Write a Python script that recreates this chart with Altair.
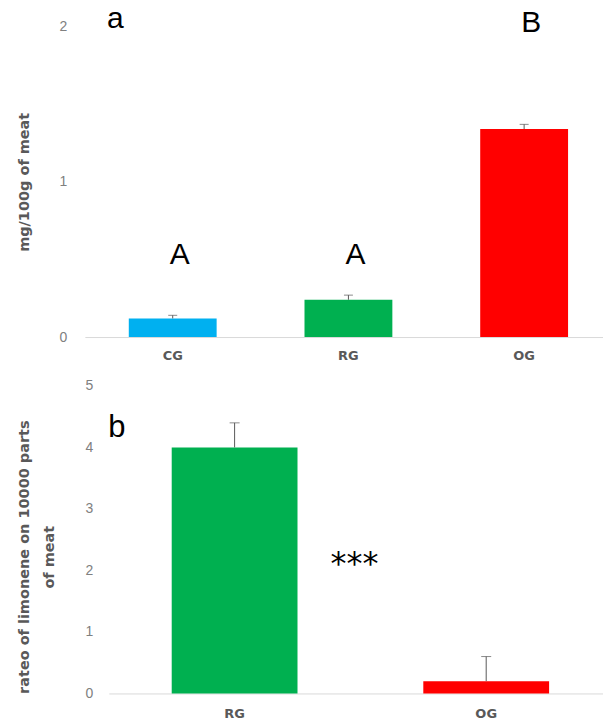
import altair as alt
import pandas as pd

# Panel a: limonene content per group
groups_a = ["CG", "RG", "OG"]
means_a = [0.12, 0.24, 1.34]
sd_a = [0.02, 0.03, 0.03]
letters_a = ["A", "A", "B"]
letter_y_a = [0.53, 0.53, 2.02]
ticks_a = [0, 1, 2]

# Panel b: ratio on 10000 parts of meat
groups_b = ["RG", "OG"]
means_b = [4.0, 0.2]
sd_b = [0.4, 0.4]
signif_b = "***"
signif_y_b = 2.1
ticks_b = [0, 1, 2, 3, 4, 5]

group_colors = {"CG": "#00B0F0", "RG": "#00B050", "OG": "#FF0000"}

GREY = "#595959"
LABEL_GREY = "#808080"

df_a = pd.DataFrame({"group": groups_a, "mean": means_a, "sd": sd_a})
df_a["upper"] = df_a["mean"] + df_a["sd"]
df_a_letters = pd.DataFrame({"group": groups_a, "letter": letters_a, "pos": letter_y_a})

df_b = pd.DataFrame({"group": groups_b, "mean": means_b, "sd": sd_b})
df_b["upper"] = df_b["mean"] + df_b["sd"]
df_b_sig = pd.DataFrame({"group": [groups_b[0]], "text": [signif_b], "pos": [signif_y_b]})

color_scale = alt.Scale(domain=list(group_colors.keys()), range=list(group_colors.values()))


def x_enc(groups, scale, pad):
    return alt.X(
        "group:N",
        sort=groups,
        title=None,
        scale=scale,
        axis=alt.Axis(
            labelAngle=0,
            labelFont="DejaVu Sans",
            labelFontWeight="bold",
            labelFontSize=13,
            labelColor=GREY,
            labelPadding=pad,
            ticks=False,
            domain=True,
            domainColor="#D9D9D9",
            domainWidth=1,
            grid=False,
        ),
    )


def y_axis(title, values, tx, ty, lpad):
    return alt.Axis(
        values=values,
        format=".0f",
        labelOverlap=False,
        title=title,
        titleFont="DejaVu Sans",
        titleFontSize=14.5,
        titleFontWeight="bold",
        titleColor=GREY,
        titleAngle=270,
        titleBaseline="middle",
        titleAlign="center",
        titleX=tx,
        titleY=ty,
        titleLineHeight=25,
        labelFont="Liberation Sans",
        labelFontSize=14,
        labelColor=LABEL_GREY,
        labelPadding=lpad,
        ticks=False,
        domain=False,
        grid=False,
    )


# ---- panel a ----
xa = x_enc(groups_a, alt.Scale(paddingInner=0.5, paddingOuter=0.2244, align=0.557), 12)
ya_scale = alt.Scale(domain=[0, 2], nice=False)
base_a = alt.Chart(df_a).encode(x=xa)
bars_a = base_a.mark_bar().encode(
    y=alt.Y("mean:Q", scale=ya_scale,
            axis=y_axis("mg/100g of meat", ticks_a, -60, 155.5, 18)),
    color=alt.Color("group:N", scale=color_scale, legend=None),
)
err_a = base_a.mark_rule(color=GREY, strokeWidth=1).encode(y="mean:Q", y2="upper:Q")
cap_a = base_a.mark_tick(color=GREY, size=9, thickness=1).encode(y="upper:Q")
letters_a_layer = alt.Chart(df_a_letters).mark_text(
    font="Liberation Sans", fontSize=30, color="black", baseline="middle", dx=7
).encode(x=alt.X("group:N", sort=groups_a), y="pos:Q", text="letter:N")
tag_a = alt.Chart(pd.DataFrame({"t": ["a"]})).mark_text(
    font="Liberation Sans", fontSize=30, color="black", baseline="middle"
).encode(x=alt.value(30.5), y=alt.value(-7.5), text="t:N")

panel_a = alt.layer(bars_a, err_a, cap_a, letters_a_layer, tag_a).properties(
    width=519, height=311
)

# ---- panel b ----
# the category axis of this panel starts 24px right of the value axis line
xb = x_enc(
    groups_b,
    alt.Scale(range=[24, 519], paddingInner=0.5, paddingOuter=0.2321, align=0.5385),
    14,
)
yb_scale = alt.Scale(domain=[0, 5], nice=False)
base_b = alt.Chart(df_b).encode(x=xb)
bars_b = base_b.mark_bar().encode(
    y=alt.Y("mean:Q", scale=yb_scale,
            axis=y_axis(["rateo of limonene on 10000 parts", "of meat"],
                        ticks_b, -60.6, 171, -8)),
    color=alt.Color("group:N", scale=color_scale, legend=None),
)
err_b = base_b.mark_rule(color=GREY, strokeWidth=1).encode(y="mean:Q", y2="upper:Q")
cap_b = base_b.mark_tick(color=GREY, size=10, thickness=1).encode(y="upper:Q")
sig_b = alt.Chart(df_b_sig).mark_text(
    font="DejaVu Sans", fontSize=32, color="black", baseline="middle", dx=120
).encode(x=alt.X("group:N", sort=groups_b), y="pos:Q", text="text:N")
tag_b = alt.Chart(pd.DataFrame({"t": ["b"]})).mark_text(
    font="Liberation Sans", fontSize=31, color="black", baseline="middle"
).encode(x=alt.value(32), y=alt.value(42), text="t:N")

panel_b = alt.layer(bars_b, err_b, cap_b, sig_b, tag_b).properties(
    width=519, height=308
)

chart = (
    alt.vconcat(panel_a, panel_b, spacing=17)
    .resolve_scale(x="independent", y="independent", color="shared")
    .properties(
        padding={"left": 16, "top": 3, "right": 0, "bottom": 0},
        background="white",
    )
    .configure_view(stroke=None)
    .configure_axis(labelOverlap=False)
)

chart.save("out.html", embed_options={"renderer": "svg", "actions": False})
